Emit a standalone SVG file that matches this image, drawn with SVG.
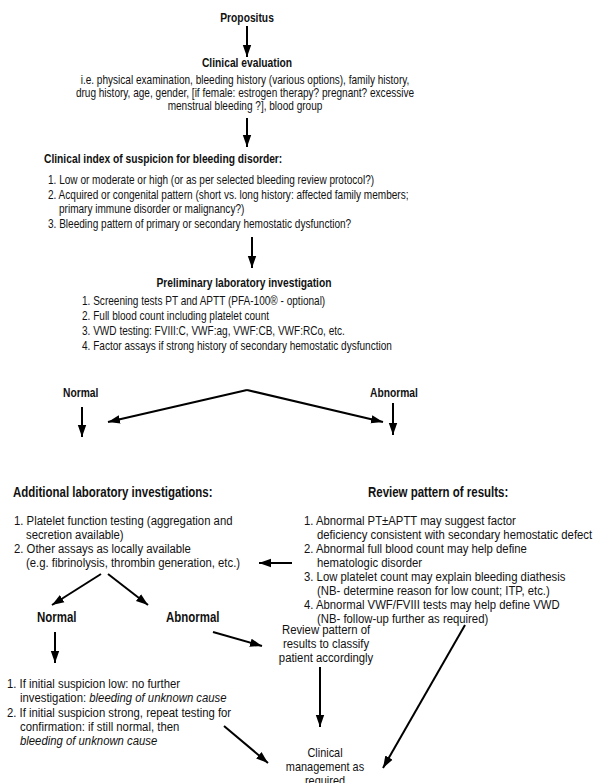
<svg xmlns="http://www.w3.org/2000/svg" width="593" height="783" viewBox="0 0 593 783">
<style>
text{font-family:"Liberation Sans",Arial,sans-serif;font-size:12.5px;fill:#111;transform-box:fill-box;transform-origin:left center;transform:scaleX(.805)}
.b{font-weight:bold;font-size:13px;transform:scaleX(.79)}
.L{font-size:13.5px;transform:scaleX(.84)}
.M{font-size:13px;transform:scaleX(.84)}
.B{font-weight:bold;font-size:14px;transform:scaleX(.82)}
.c{text-anchor:middle;transform-origin:center center}
.i{font-style:italic}
.ln{stroke:#000;stroke-width:2;fill:none;marker-end:url(#ah)}
</style>
<defs>
<marker id="ah" markerUnits="userSpaceOnUse" markerWidth="14" markerHeight="10" refX="12" refY="5" orient="auto">
<path d="M0,0.8 L12,5 L0,9.2 Z" fill="#000"/>
</marker>
</defs>
<rect width="593" height="783" fill="#fff"/>
<g id="propositus"><text class="b c" x="247" y="22">Propositus</text></g>
<g id="clinical-evaluation">
<text class="b c" x="247" y="67">Clinical evaluation</text>
<text class="c" x="245" y="84">i.e. physical examination, bleeding history (various options), family history,</text>
<text class="c" x="245" y="97">drug history, age, gender, [if female: estrogen therapy? pregnant? excessive</text>
<text class="c" x="245" y="110">menstrual bleeding ?], blood group</text>
</g>
<g id="clinical-index">
<text class="b" x="44" y="163">Clinical index of suspicion for bleeding disorder:</text>
<text x="48" y="184">1. Low or moderate or high (or as per selected bleeding review protocol?)</text>
<text x="48" y="199">2. Acquired or congenital pattern (short vs. long history: affected family members;</text>
<text x="59" y="213">primary immune disorder or malignancy?)</text>
<text x="48" y="228">3. Bleeding pattern of primary or secondary hemostatic dysfunction?</text>
</g>
<g id="preliminary">
<text class="b c" x="244" y="287">Preliminary laboratory investigation</text>
<text x="82" y="305">1. Screening tests PT and APTT (PFA-100® - optional)</text>
<text x="82" y="320">2. Full blood count including platelet count</text>
<text x="82" y="335">3. VWD testing: FVIII:C, VWF:ag, VWF:CB, VWF:RCo, etc.</text>
<text x="82" y="350">4. Factor assays if strong history of secondary hemostatic dysfunction</text>
</g>
<g id="normal-1"><text class="b" x="63" y="397">Normal</text></g>
<g id="abnormal-1"><text class="b" x="370" y="397">Abnormal</text></g>
<g id="additional">
<text class="B" x="13" y="497">Additional laboratory investigations:</text>
<text class="L" x="14" y="525">1. Platelet function testing (aggregation and</text>
<text class="L" x="26" y="539">secretion available)</text>
<text class="L" x="14" y="553">2. Other assays as locally available</text>
<text class="L" x="26" y="567">(e.g. fibrinolysis, thrombin generation, etc.)</text>
</g>
<g id="review">
<text class="B" x="368" y="497">Review pattern of results:</text>
<text class="L" x="304" y="525">1. Abnormal PT±APTT may suggest factor</text>
<text class="L" x="317" y="539">deficiency consistent with secondary hemostatic defect</text>
<text class="L" x="304" y="553">2. Abnormal full blood count may help define</text>
<text class="L" x="317" y="567">hematologic disorder</text>
<text class="L" x="304" y="581">3. Low platelet count may explain bleeding diathesis</text>
<text class="L" x="317" y="595">(NB- determine reason for low count; ITP, etc.)</text>
<text class="L" x="304" y="609">4. Abnormal VWF/FVIII tests may help define VWD</text>
<text class="L" x="317" y="623">(NB- follow-up further as required)</text>
</g>
<g id="normal-2"><text class="B" x="37" y="622">Normal</text></g>
<g id="abnormal-2"><text class="B" x="166" y="622">Abnormal</text></g>
<g id="review-classify">
<text class="L c" x="326" y="634">Review pattern of</text>
<text class="L c" x="326" y="648">results to classify</text>
<text class="L c" x="326" y="662">patient accordingly</text>
</g>
<g id="normal-outcome">
<text class="L" x="7" y="688">1. If initial suspicion low: no further</text>
<text class="L" x="20" y="702">investigation: <tspan class="i">bleeding of unknown cause</tspan></text>
<text class="L" x="7" y="717">2. If initial suspicion strong, repeat testing for</text>
<text class="L" x="20" y="731">confirmation: if still normal, then</text>
<text class="L i" x="20" y="745">bleeding of unknown cause</text>
</g>
<g id="clinical-management">
<text class="M c" x="325" y="757">Clinical</text>
<text class="M c" x="325" y="771">management as</text>
<text class="M c" x="325" y="785">required</text>
</g>
<g id="connectors">
<line class="ln" x1="247" y1="26" x2="247" y2="57"/>
<line class="ln" x1="247" y1="118" x2="247" y2="147"/>
<line class="ln" x1="252" y1="237" x2="252" y2="268"/>
<line class="ln" x1="247" y1="390" x2="108" y2="422"/>
<line class="ln" x1="247" y1="390" x2="383" y2="422"/>
<line class="ln" x1="82" y1="407" x2="82" y2="437"/>
<line class="ln" x1="393" y1="403" x2="393" y2="435"/>
<line class="ln" x1="292" y1="563" x2="259" y2="563"/>
<line class="ln" x1="101" y1="574" x2="52" y2="605"/>
<line class="ln" x1="108" y1="574" x2="148" y2="605"/>
<line class="ln" x1="55" y1="632" x2="55" y2="663"/>
<line class="ln" x1="213" y1="632" x2="262" y2="646"/>
<line class="ln" x1="320" y1="667" x2="320" y2="727"/>
<line class="ln" x1="465" y1="625" x2="383" y2="768"/>
<line class="ln" x1="224" y1="726" x2="268" y2="763"/>
</g>
</svg>
